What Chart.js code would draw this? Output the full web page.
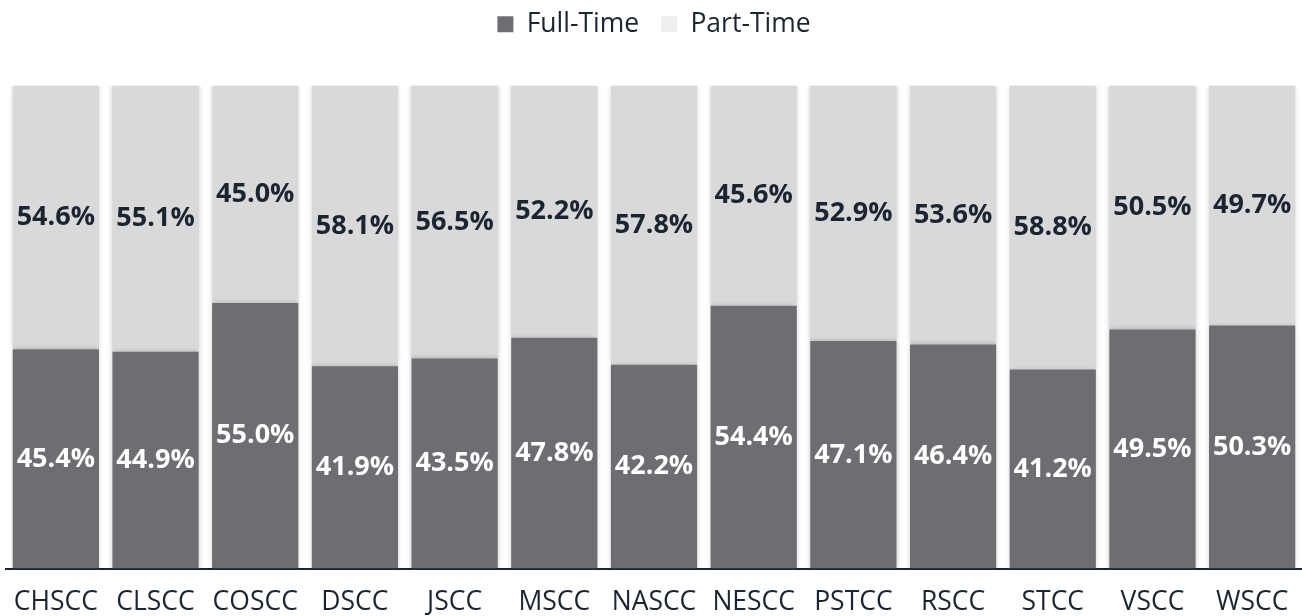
<!DOCTYPE html>
<html>
<head>
<meta charset="utf-8">
<script src="https://cdn.jsdelivr.net/npm/chart.js@4.4.0/dist/chart.umd.min.js"></script>
<style>
  html, body { margin: 0; padding: 0; background: #fff; }
  #wrap { width: 1302px; height: 616px; }
</style>
</head>
<body>
<div id="wrap"><canvas id="enrollChart"></canvas></div>
<script>
let colleges = ["CHSCC", "CLSCC", "COSCC", "DSCC", "JSCC", "MSCC", "NASCC", "NESCC", "PSTCC", "RSCC", "STCC", "VSCC", "WSCC"];
let fullTime = [45.4, 44.9, 55.0, 41.9, 43.5, 47.8, 42.2, 54.4, 47.1, 46.4, 41.2, 49.5, 50.3];
let partTime = [54.6, 55.1, 45.0, 58.1, 56.5, 52.2, 57.8, 45.6, 52.9, 53.6, 58.8, 50.5, 49.7];

let darkGray = "#6d6e72";
let lightGray = "#d9d9d9";
let textColor = "#1b2431";

// soft shadow round the bars
let shadowPlugin = {
  id: "barShadow",
  beforeDatasetsDraw(chart) {
    let c = chart.ctx;
    c.save();
    c.shadowColor = "rgba(0,0,0,0.22)";
    c.shadowBlur = 5;
  },
  afterDatasetsDraw(chart) {
    chart.ctx.restore();
  },
};

// percentage labels in the middle of each segment
let labelPlugin = {
  id: "segLabels",
  afterDatasetsDraw(chart) {
    let c = chart.ctx;
    c.save();
    c.font = "bold 27px 'Open Sans'";
    c.textAlign = "center";
    c.textBaseline = "middle";
    chart.data.datasets.forEach((ds, i) => {
      let meta = chart.getDatasetMeta(i);
      meta.data.forEach((bar, j) => {
        let mid = (bar.y + bar.base) / 2;
        c.fillStyle = i === 0 ? "#ffffff" : textColor;
        c.fillText(ds.data[j].toFixed(1) + "%", bar.x, mid);
      });
    });
    c.restore();
  },
};

Chart.defaults.font.family = "'Open Sans', sans-serif";
Chart.defaults.color = textColor;

let ctx = document.getElementById("enrollChart").getContext("2d");
let enrollChart = new Chart(ctx, {
  type: "bar",
  data: {
    labels: colleges,
    datasets: [
      {
        label: "Full-Time",
        data: fullTime,
        backgroundColor: darkGray,
        barPercentage: 0.865,
        categoryPercentage: 1,
      },
      {
        label: "Part-Time",
        data: partTime,
        backgroundColor: lightGray,
        barPercentage: 0.865,
        categoryPercentage: 1,
      },
    ],
  },
  options: {
    responsive: true,
    maintainAspectRatio: false,
    animation: false,
    layout: { padding: { left: 6, right: 0, top: -11, bottom: -20 } },
    plugins: {
      tooltip: { enabled: false },
      legend: {
        position: "top",
        labels: {
          font: { size: 26.5 },
          boxWidth: 16,
          boxHeight: 16,
          padding: 22,
          generateLabels(chart) {
            let items = Chart.defaults.plugins.legend.labels.generateLabels(chart);
            items.forEach((it, k) => {
              it.fillStyle = k === 0 ? darkGray : "#eeeeee";
              it.strokeStyle = "transparent";
              it.lineWidth = 0;
            });
            return items;
          },
        },
      },
    },
    scales: {
      x: {
        stacked: true,
        grid: { display: false, drawTicks: false },
        border: { display: true, color: textColor, width: 2 },
        ticks: { font: { size: 26.5, lineHeight: 1.713 }, color: textColor, padding: 11, maxRotation: 0, autoSkip: false },
      },
      y: {
        stacked: true,
        display: false,
        min: 0,
        max: 100,
      },
    },
  },
  plugins: [shadowPlugin, labelPlugin,
    {
      id: "legendGap",
      beforeInit(chart) {
        let fit = chart.legend.fit;
        chart.legend.fit = function () {
          fit.bind(chart.legend)();
          this.height += 38;
        };
      },
    },
  ],
});
</script>
</body>
</html>
